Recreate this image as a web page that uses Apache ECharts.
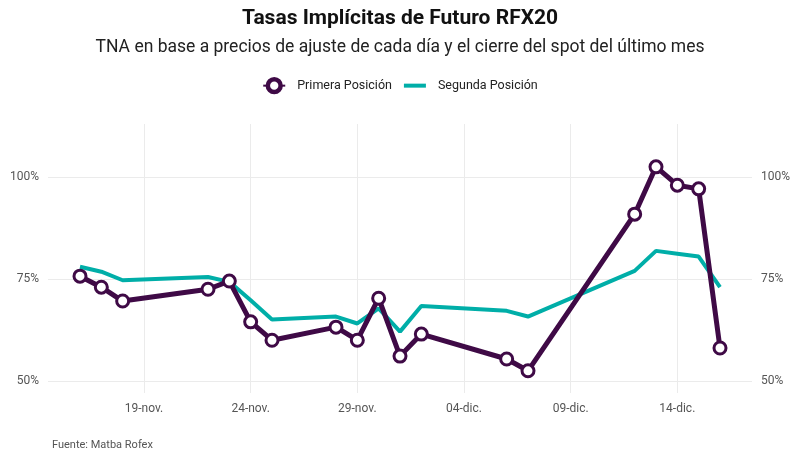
<!DOCTYPE html>
<html>
<head>
<meta charset="utf-8">
<title>Tasas Implícitas de Futuro RFX20</title>
<script src="https://cdn.jsdelivr.net/npm/echarts@6/dist/echarts.min.js"></script>
<style>
  html, body { margin: 0; padding: 0; background: #fff; }
  #chart { width: 800px; height: 457px; }
</style>
</head>
<body>
<div id="chart"></div>
<script>
// fechas de cada rueda
var fechas = ['2020-11-16','2020-11-17','2020-11-18','2020-11-22','2020-11-23','2020-11-24','2020-11-25',
              '2020-11-28','2020-11-29','2020-11-30','2020-12-01','2020-12-02','2020-12-06','2020-12-07',
              '2020-12-12','2020-12-13','2020-12-14','2020-12-15','2020-12-16'];
var primera = [75.7, 73.0, 69.6, 72.5, 74.5, 64.5, 60.0, 63.2, 60.0, 70.3, 56.1, 61.5, 55.4, 52.5,
               90.9, 102.5, 98.0, 97.1, 58.1];
var segunda = [78.0, 76.8, 74.7, 75.5, 74.3, 69.8, 65.1, 65.8, 64.1, 67.8, 62.1, 68.4, 67.2, 65.8,
               77.0, 81.9, 81.2, 80.5, 73.0];
var ticksX = ['2020-11-19','2020-11-24','2020-11-29','2020-12-04','2020-12-09','2020-12-14'];
var ticksY = [50, 75, 100];
var meses = ['ene','feb','mar','abr','may','jun','jul','ago','sep','oct','nov','dic'];

var base = Date.UTC(2020, 10, 19);
function dia(s) {
  var p = s.split('-');
  return Math.round((Date.UTC(+p[0], +p[1] - 1, +p[2]) - base) / 86400000);
}
function etiqueta(v) {
  var d = new Date(base + v * 86400000);
  var dd = d.getUTCDate();
  return (dd < 10 ? '0' + dd : dd) + '-' + meses[d.getUTCMonth()] + '.';
}

var xs = fechas.map(dia);
var serie1 = xs.map(function (x, i) { return [x, primera[i]]; });
var serie2 = xs.map(function (x, i) { return [x, segunda[i]]; });

var gris = '#555';
var violeta = '#3f0a46';
var verde = '#00aea8';
var chart = echarts.init(document.getElementById('chart'));
chart.setOption({
  animation: false,
  textStyle: { fontFamily: 'Roboto' },
  title: [
    { text: 'Tasas Implícitas de Futuro RFX20', left: 'center', top: 3,
      textStyle: { fontSize: 21, fontWeight: 'bold', color: '#111', fontFamily: 'Roboto' } },
    { text: 'TNA en base a precios de ajuste de cada día y el cierre del spot del último mes', left: 'center', top: 34,
      textStyle: { fontSize: 17.5, fontWeight: 'normal', color: '#222', fontFamily: 'Roboto' } },
    { text: 'Fuente: Matba Rofex', left: 47, top: 435,
      textStyle: { fontSize: 11, fontWeight: 'normal', color: gris, fontFamily: 'Roboto' } }
  ],
  legend: {
    top: 72, left: 'center', itemGap: 12, itemWidth: 22, itemHeight: 16,
    textStyle: { fontSize: 12.5, color: '#222', padding: [0, 0, 0, 7] },
    data: [
      { name: 'Primera Posición', itemStyle: { color: '#fff', borderColor: violeta, borderWidth: 4.5 } },
      { name: 'Segunda Posición', icon: 'path://M0,0M0,6h22v4h-22zM22,16' }
    ]
  },
  grid: { left: 48, right: 48, top: 124, bottom: 64 },
  xAxis: {
    type: 'value', min: -4.5, max: 28.5,
    axisLine: { show: false },
    axisTick: { show: false, customValues: ticksX.map(dia) },
    axisLabel: { customValues: ticksX.map(dia), formatter: etiqueta, color: gris, fontSize: 12, margin: 10 },
    splitLine: { show: true, lineStyle: { color: '#ebebeb', width: 1 } }
  },
  yAxis: [
    { type: 'value', min: 47.06, max: 113,
      axisLine: { show: false },
      axisTick: { show: false, customValues: ticksY },
      axisLabel: { customValues: ticksY, formatter: '{value}%', color: gris, fontSize: 12, margin: 9 },
      splitLine: { show: true, lineStyle: { color: '#ebebeb', width: 1 } } },
    { type: 'value', min: 47.06, max: 113, position: 'right',
      axisLine: { show: false },
      axisTick: { show: false, customValues: ticksY },
      axisLabel: { customValues: ticksY, formatter: '{value}%', color: gris, fontSize: 12, margin: 9 },
      splitLine: { show: false } }
  ],
  series: [
    { name: 'Segunda Posición', type: 'line', data: serie2, showSymbol: false, symbol: 'none',
      z: 2, lineStyle: { color: verde, width: 4 }, itemStyle: { color: verde } },
    { name: 'Primera Posición', type: 'line', data: serie1, symbol: 'circle', symbolSize: 12,
      z: 3, lineStyle: { color: violeta, width: 5 },
      itemStyle: { color: '#fff', borderColor: violeta, borderWidth: 3 } }
  ]
});
</script>
</body>
</html>
